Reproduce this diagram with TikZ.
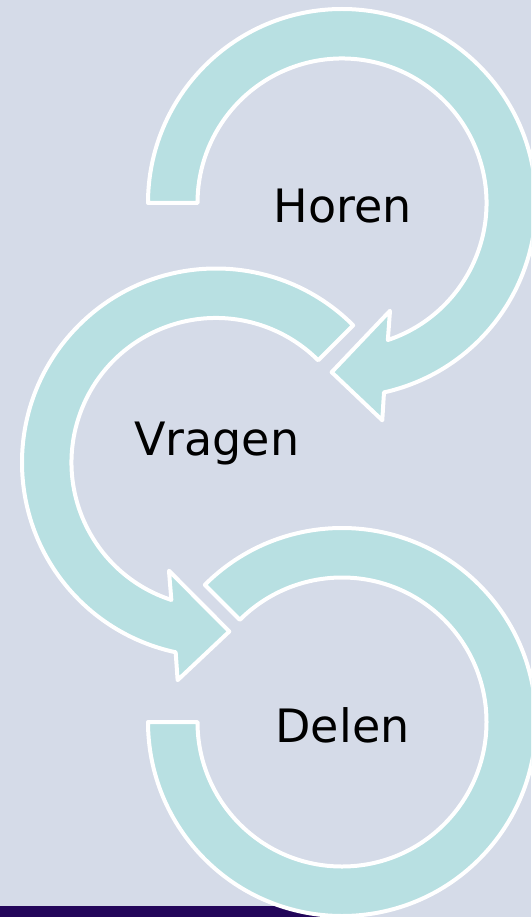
\documentclass[tikz,border=0pt]{standalone}
\usepackage{fontspec}
\setmainfont{DejaVu Sans}
\usepackage{tikz}
\definecolor{achtergrond}{RGB}{213,219,232}
\definecolor{pijlkleur}{RGB}{184,224,226}
\definecolor{balkkleur}{RGB}{35,6,90}
\tikzset{
  arc_band/.style = {fill=pijlkleur, draw=white, line width=4pt,
    line join=round},% ring of a step
  step_label/.style = {anchor=base, inner sep=0pt, text=black,
    font=\fontsize{46}{55}\selectfont}
}
\begin{document}
\begin{tikzpicture}[x=1pt,y=1pt]
\useasboundingbox (0,0) rectangle (531,-917);
\clip (0,0) rectangle (531,-917);
\fill[achtergrond] (0,0) rectangle (531,-917);
\fill[balkkleur] (0,-906) rectangle (340,-917);
\coordinate (c1) at (342,-203);
\coordinate (c2) at (216,-462.5);
\coordinate (c3) at (342,-722);
% Delen, no head
\begin{scope}[shift={(c3)}]
\draw[arc_band] (135:194) arc[start angle=135, end angle=-180, radius=194]
   -- (180:144.5) arc[start angle=-180, end angle=135, radius=144.5] -- cycle;
\end{scope}
% Vragen
\begin{scope}[shift={(c2)}]
\draw[arc_band] (45:194) arc[start angle=45, end angle=258, radius=194]
   -- (260:221) -- (274.5:169.5) -- (246.5:118) -- (252:144.5)
   arc[start angle=252, end angle=45, radius=144.5] -- cycle;
\end{scope}
% Horen
\begin{scope}[shift={(c1)}]
\draw[arc_band] (180:194) arc[start angle=180, end angle=-77.5, radius=194]
   -- (-79.5:221) -- (-93.5:169.5) -- (-66:118) -- (-71.5:144.5)
   arc[start angle=-71.5, end angle=180, radius=144.5] -- cycle;
\end{scope}
\node[step_label] (horen) at (342.5,-222.7) {Horen};
\node[step_label] (vragen) at (216.7,-455) {Vragen};
\node[step_label] (delen) at (342.5,-742.3) {Delen};
\end{tikzpicture}
\end{document}
